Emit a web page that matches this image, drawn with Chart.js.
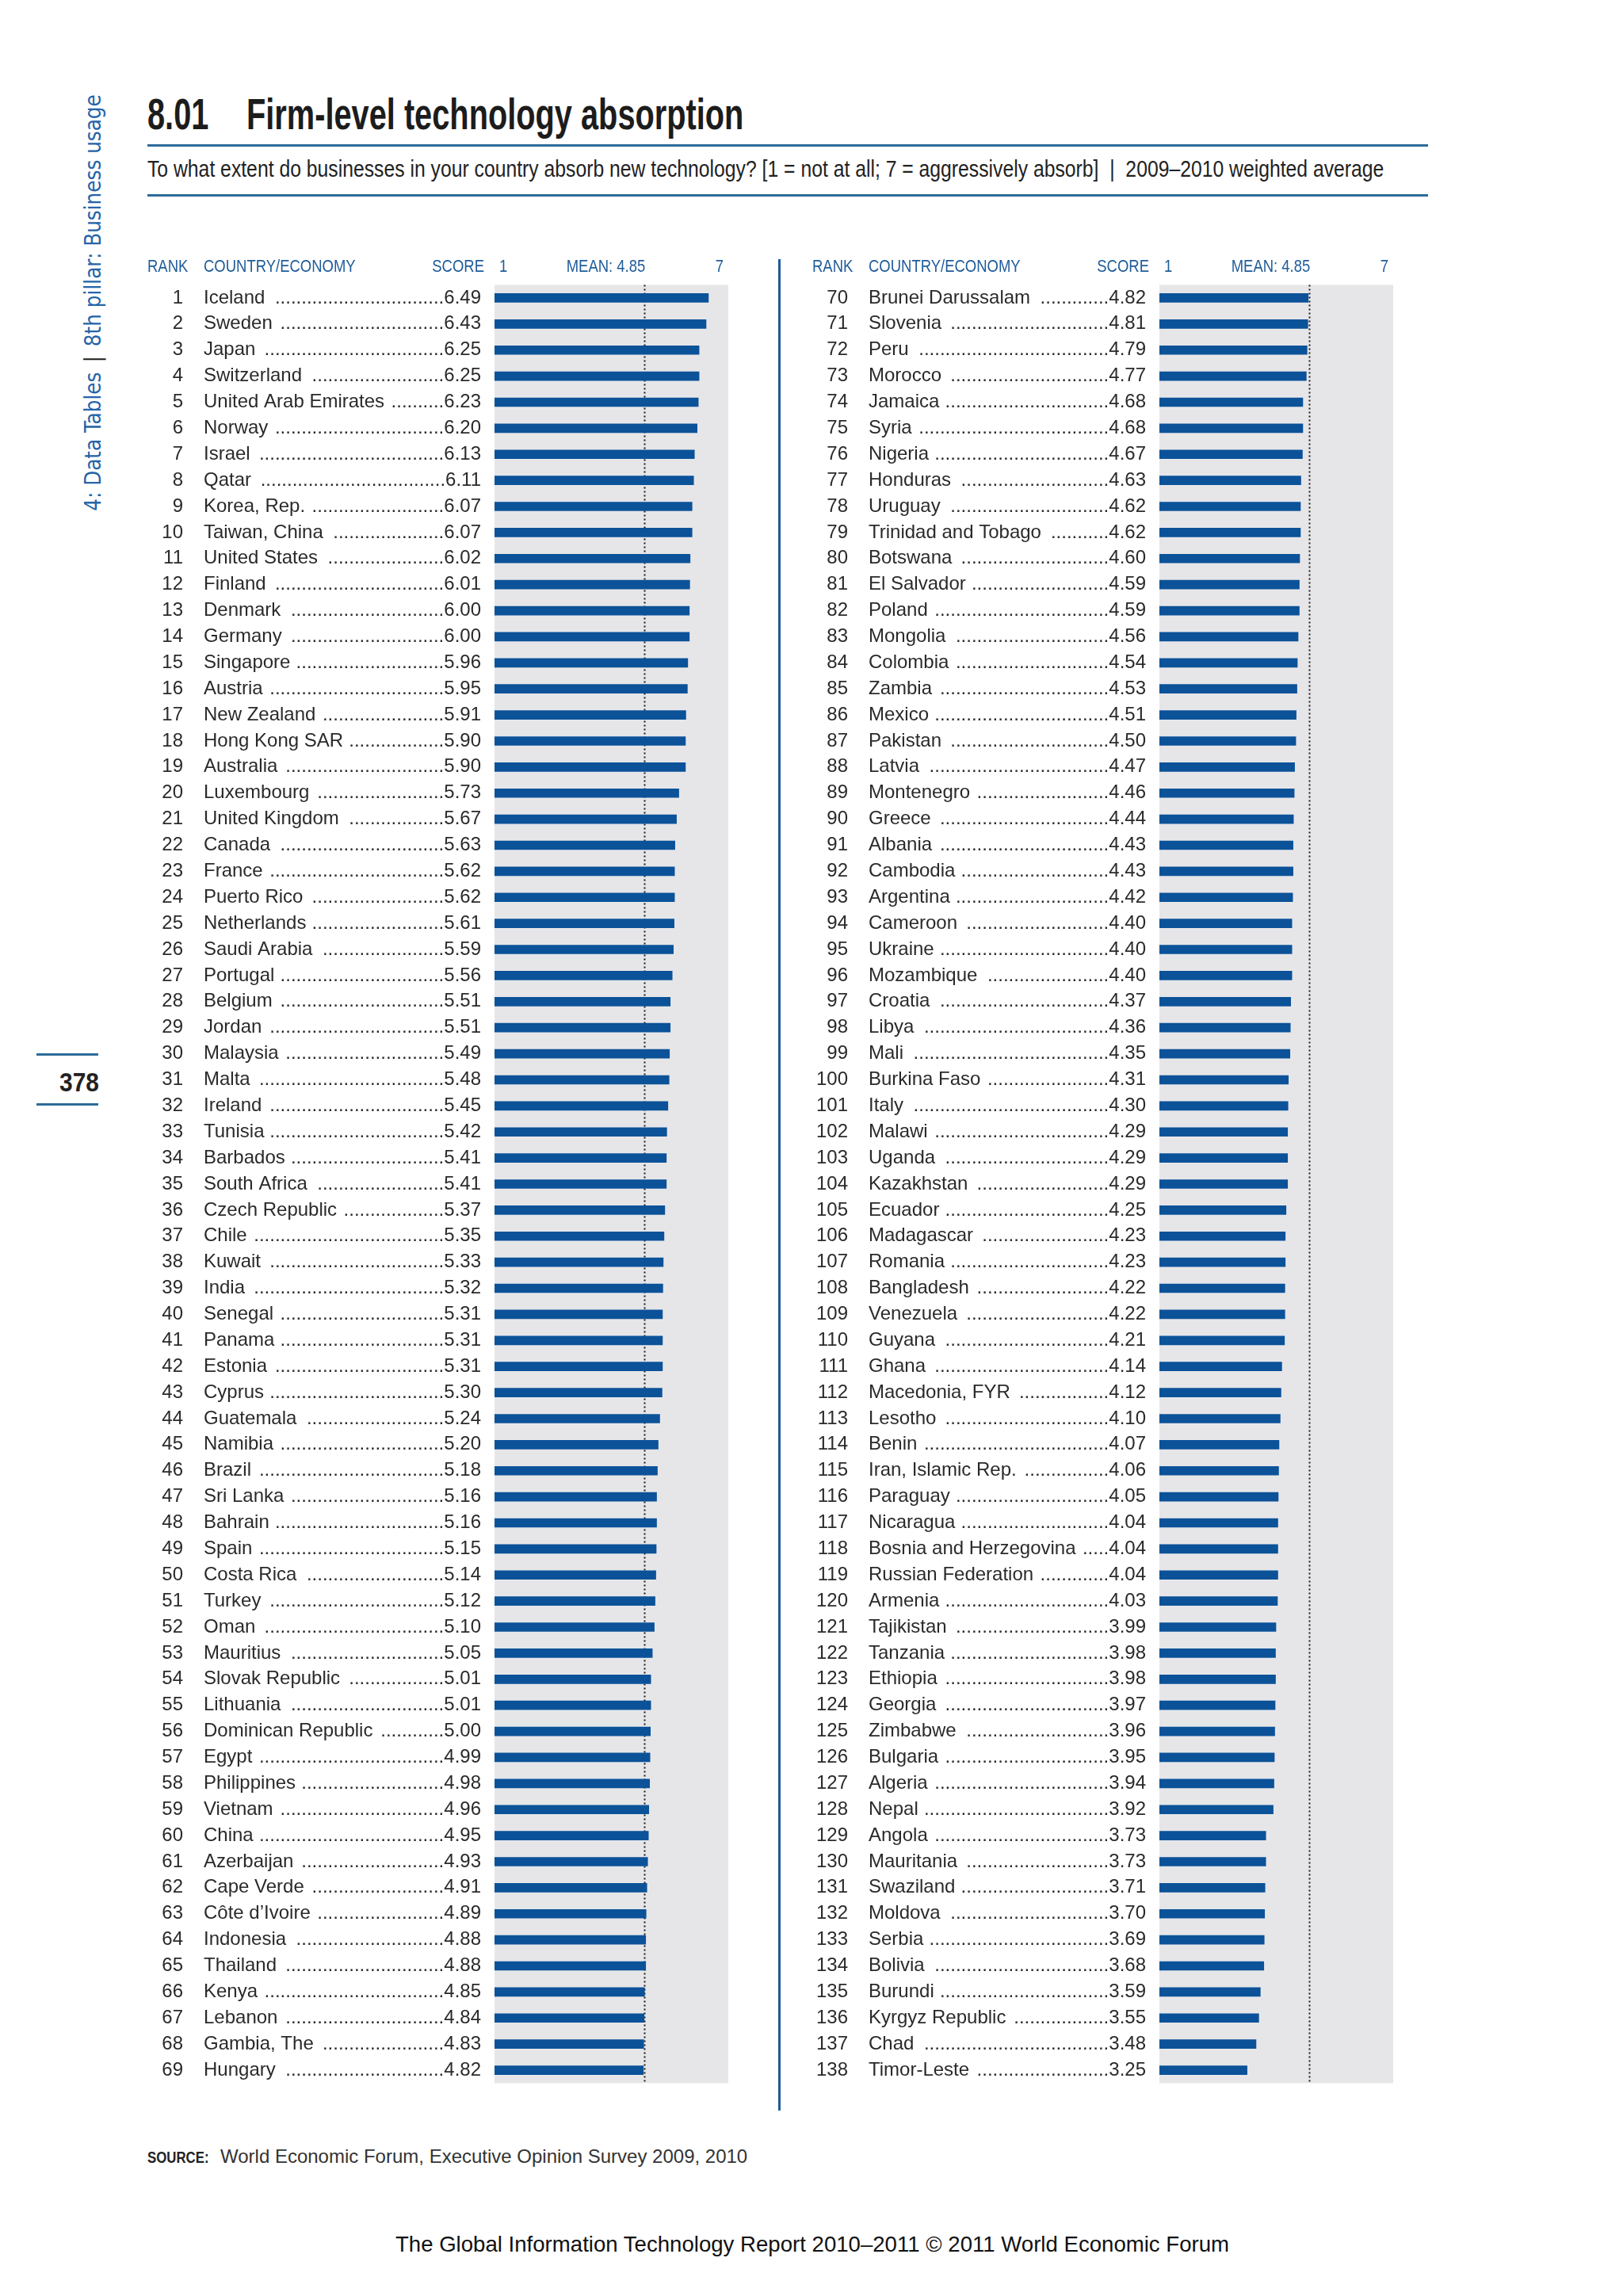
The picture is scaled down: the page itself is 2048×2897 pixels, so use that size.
<!DOCTYPE html>
<html>
<head>
<meta charset="utf-8">
<script src="https://cdn.jsdelivr.net/npm/chart.js@4.4.0/dist/chart.umd.min.js"></script>
<style>
  html, body { margin: 0; padding: 0; background: #fff; }
  body { position: relative; width: 2048px; height: 2897px; overflow: hidden; font-family: "Liberation Sans", Arial, sans-serif; }
  .abs { position: absolute; white-space: nowrap; }
  .rule { position: absolute; background: #2d6b99; }
  .cond { transform-origin: 0 50%; }
  #side { left: 117px; top: 382px; transform: translate(-50%, -50%) rotate(-90deg); font-family: "Liberation Sans Narrow", "DejaVu Sans Condensed", sans-serif; font-size: 27.5px; color: #2565a8; }
  #side span { color: #222; padding: 0 12px; }
  #pnum { left: 75px; top: 1346px; font-weight: bold; font-size: 34px; color: #222; transform: scaleX(0.88); transform-origin: 0 50%; }
  .title { top: 110px; font-weight: bold; font-size: 56px; color: #1c1c1c; line-height: 68px; transform: scaleX(0.71); }
  #sub { left: 186px; top: 195px; font-size: 29px; color: #222; line-height: 36px; transform: scaleX(0.853); }
  #srcb { left: 186px; top: 2708px; font-weight: bold; font-size: 21px; color: #222; line-height: 28px; transform: scaleX(0.8); }
  #src { left: 278px; top: 2706px; font-size: 24px; color: #333; line-height: 30px; }
  #foot { left: 1025px; top: 2816px; transform: translateX(-50%); font-size: 27.6px; color: #111; line-height: 32px; }
  canvas { position: absolute; }
</style>
</head>
<body>
<div id="side" class="abs">4: Data Tables<span>|</span>8th pillar: Business usage</div>
<div class="rule" style="left:46px; top:1329px; width:78px; height:3px;"></div>
<div id="pnum" class="abs">378</div>
<div class="rule" style="left:46px; top:1392px; width:78px; height:3px;"></div>

<div class="abs title cond" style="left:186px;">8.01</div>
<div class="abs title cond" style="left:311px;">Firm-level technology absorption</div>
<div class="rule" style="left:186px; top:182px; width:1616px; height:3px;"></div>
<div id="sub" class="abs cond">To what extent do businesses in your country absorb new technology? [1 = not at all; 7 = aggressively absorb]&nbsp; |&nbsp; 2009–2010 weighted average</div>
<div class="rule" style="left:186px; top:245px; width:1616px; height:3px;"></div>

<canvas id="colA" width="770" height="2340" style="left:160px; top:310px;"></canvas>
<div class="rule" style="left:982px; top:327px; width:3px; height:2336px; background:#1d5c9c;"></div>
<canvas id="colB" width="770" height="2340" style="left:999px; top:310px;"></canvas>

<div id="srcb" class="abs cond">SOURCE:</div>
<div id="src" class="abs">World Economic Forum, Executive Opinion Survey 2009, 2010</div>
<div id="foot" class="abs">The Global Information Technology Report 2010–2011 © 2011 World Economic Forum</div>

<script>
// data, left column (ranks 1-69)
const ranksA = [1,2,3,4,5,6,7,8,9,10,11,12,13,14,15,16,17,18,19,20,21,22,23,24,25,26,27,28,29,30,31,32,33,34,35,
  36,37,38,39,40,41,42,43,44,45,46,47,48,49,50,51,52,53,54,55,56,57,58,59,60,61,62,63,64,65,66,67,68,69];
const countriesA = ["Iceland","Sweden","Japan","Switzerland","United Arab Emirates","Norway","Israel","Qatar",
  "Korea, Rep.","Taiwan, China","United States","Finland","Denmark","Germany","Singapore","Austria","New Zealand",
  "Hong Kong SAR","Australia","Luxembourg","United Kingdom","Canada","France","Puerto Rico","Netherlands",
  "Saudi Arabia","Portugal","Belgium","Jordan","Malaysia","Malta","Ireland","Tunisia","Barbados","South Africa",
  "Czech Republic","Chile","Kuwait","India","Senegal","Panama","Estonia","Cyprus","Guatemala","Namibia","Brazil",
  "Sri Lanka","Bahrain","Spain","Costa Rica","Turkey","Oman","Mauritius","Slovak Republic","Lithuania",
  "Dominican Republic","Egypt","Philippines","Vietnam","China","Azerbaijan","Cape Verde","Côte d’Ivoire",
  "Indonesia","Thailand","Kenya","Lebanon","Gambia, The","Hungary"];
const scoresA = [6.49,6.43,6.25,6.25,6.23,6.20,6.13,6.11,6.07,6.07,6.02,6.01,6.00,6.00,5.96,5.95,5.91,5.90,5.90,
  5.73,5.67,5.63,5.62,5.62,5.61,5.59,5.56,5.51,5.51,5.49,5.48,5.45,5.42,5.41,5.41,5.37,5.35,5.33,5.32,5.31,5.31,
  5.31,5.30,5.24,5.20,5.18,5.16,5.16,5.15,5.14,5.12,5.10,5.05,5.01,5.01,5.00,4.99,4.98,4.96,4.95,4.93,4.91,4.89,
  4.88,4.88,4.85,4.84,4.83,4.82];

// data, right column (ranks 70-138)
const ranksB = [70,71,72,73,74,75,76,77,78,79,80,81,82,83,84,85,86,87,88,89,90,91,92,93,94,95,96,97,98,99,100,
  101,102,103,104,105,106,107,108,109,110,111,112,113,114,115,116,117,118,119,120,121,122,123,124,125,126,127,
  128,129,130,131,132,133,134,135,136,137,138];
const countriesB = ["Brunei Darussalam","Slovenia","Peru","Morocco","Jamaica","Syria","Nigeria","Honduras","Uruguay",
  "Trinidad and Tobago","Botswana","El Salvador","Poland","Mongolia","Colombia","Zambia","Mexico","Pakistan","Latvia",
  "Montenegro","Greece","Albania","Cambodia","Argentina","Cameroon","Ukraine","Mozambique","Croatia","Libya","Mali",
  "Burkina Faso","Italy","Malawi","Uganda","Kazakhstan","Ecuador","Madagascar","Romania","Bangladesh","Venezuela",
  "Guyana","Ghana","Macedonia, FYR","Lesotho","Benin","Iran, Islamic Rep.","Paraguay","Nicaragua",
  "Bosnia and Herzegovina","Russian Federation","Armenia","Tajikistan","Tanzania","Ethiopia","Georgia","Zimbabwe",
  "Bulgaria","Algeria","Nepal","Angola","Mauritania","Swaziland","Moldova","Serbia","Bolivia","Burundi",
  "Kyrgyz Republic","Chad","Timor-Leste"];
const scoresB = [4.82,4.81,4.79,4.77,4.68,4.68,4.67,4.63,4.62,4.62,4.60,4.59,4.59,4.56,4.54,4.53,4.51,4.50,4.47,
  4.46,4.44,4.43,4.43,4.42,4.40,4.40,4.40,4.37,4.36,4.35,4.31,4.30,4.29,4.29,4.29,4.25,4.23,4.23,4.22,4.22,4.21,
  4.14,4.12,4.10,4.07,4.06,4.05,4.04,4.04,4.04,4.03,3.99,3.98,3.98,3.97,3.96,3.95,3.94,3.92,3.73,3.73,3.71,3.70,
  3.69,3.68,3.59,3.55,3.48,3.25];

const axisTicks = ["1", "MEAN: 4.85", "7"];
const MEAN = 4.85;

const BAR = '#0b5299';
const PANEL = '#e6e6e9';
const HEAD = '#1f5c99';
const ROW_FONT = '24px "Liberation Sans", Arial, sans-serif';
const HEAD_FONT = '22px "Liberation Sans", Arial, sans-serif';
const HEAD_SX = 0.84;

// header labels are set in a condensed face: squeeze them horizontally
function condText(ctx, text, x, y, align) {
  ctx.save();
  ctx.translate(x, y);
  ctx.scale(HEAD_SX, 1);
  ctx.textAlign = align;
  ctx.fillText(text, 0, 0);
  ctx.restore();
}

// gray panel, dotted mean line, header row and the rank/name/score text beside each bar
const tablePlugin = {
  id: 'table',
  beforeDraw(chart) {
    const { ctx, chartArea: a } = chart;
    ctx.save();
    ctx.fillStyle = PANEL;
    ctx.fillRect(a.left, a.top, a.right - a.left, a.bottom - a.top);
    ctx.restore();
  },
  beforeDatasetsDraw(chart) {
    const { ctx, chartArea: a, scales: { x } } = chart;
    const mx = Math.round(x.getPixelForValue(MEAN)) + 0.5;
    ctx.save();
    ctx.strokeStyle = '#1a1a1a';
    ctx.lineWidth = 2;
    ctx.setLineDash([2, 3]);
    ctx.beginPath();
    ctx.moveTo(mx, a.top);
    ctx.lineTo(mx, a.bottom);
    ctx.stroke();
    ctx.restore();
  },
  afterDraw(chart, args, opts) {
    const { ctx, chartArea: a, scales: { x, y } } = chart;
    const rankRight = a.left - 393, nameLeft = a.left - 367, scoreRight = a.left - 17;
    const headY = a.top - 23;

    ctx.save();
    ctx.textBaseline = 'middle';
    ctx.font = HEAD_FONT;
    ctx.fillStyle = HEAD;
    condText(ctx, 'RANK', rankRight - 45, headY, 'left');
    condText(ctx, 'COUNTRY/ECONOMY', nameLeft, headY, 'left');
    condText(ctx, 'SCORE', scoreRight + 4, headY, 'right');
    condText(ctx, axisTicks[0], x.getPixelForValue(1) + 6, headY, 'left');
    condText(ctx, axisTicks[1], x.getPixelForValue(MEAN) + 1, headY, 'right');
    condText(ctx, axisTicks[2], x.getPixelForValue(7) - 6, headY, 'right');

    ctx.font = ROW_FONT;
    ctx.fillStyle = '#2a2a2a';
    const dotW = ctx.measureText('.').width;
    opts.names.forEach((name, i) => {
      const cy = y.getPixelForValue(i);
      const score = opts.scores[i].toFixed(2);
      ctx.textAlign = 'right';
      ctx.fillText(String(opts.ranks[i]), rankRight, cy);
      ctx.fillText(score, scoreRight, cy);
      const scoreStart = scoreRight - ctx.measureText(score).width;
      ctx.textAlign = 'left';
      ctx.fillText(name, nameLeft, cy);
      const nameEnd = nameLeft + ctx.measureText(name + ' ').width;
      const n = Math.floor((scoreStart - nameEnd) / dotW);
      if (n > 0) {
        ctx.textAlign = 'right';
        ctx.fillText('.'.repeat(n), scoreStart, cy);
      }
    });
    ctx.restore();
  }
};

function makeColumn(id, ranks, names, scores) {
  return new Chart(document.getElementById(id), {
    type: 'bar',
    data: {
      labels: names,
      datasets: [{
        data: scores,
        backgroundColor: BAR,
        borderWidth: 0,
        barThickness: 11,
      }],
    },
    options: {
      indexAxis: 'y',
      responsive: false,
      animation: false,
      events: [],
      layout: { padding: { left: 464, right: 11, top: 49.5, bottom: 21.5 } },
      scales: {
        x: { type: 'linear', min: 1, max: 7, display: false },
        y: { display: false },
      },
      plugins: {
        legend: { display: false },
        tooltip: { enabled: false },
        table: { ranks, names, scores },
      },
    },
    plugins: [tablePlugin],
  });
}

makeColumn('colA', ranksA, countriesA, scoresA);
makeColumn('colB', ranksB, countriesB, scoresB);
</script>
</body>
</html>
